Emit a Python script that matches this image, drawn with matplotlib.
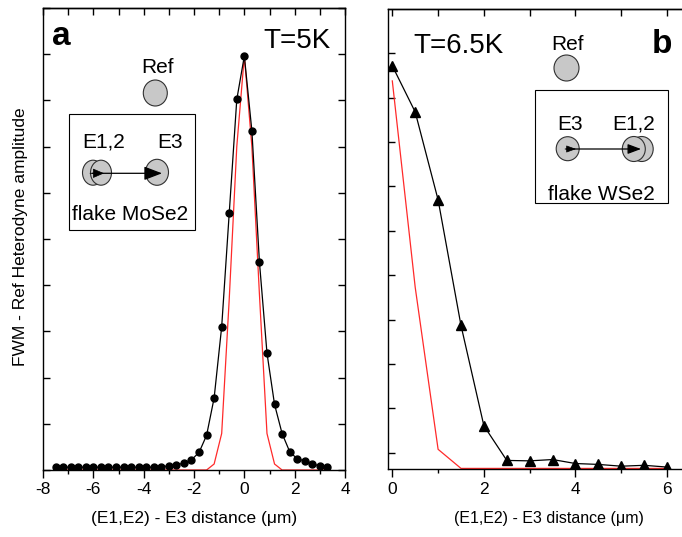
import numpy as np
import matplotlib
matplotlib.use('Agg')
import matplotlib.pyplot as plt
from matplotlib.patches import Ellipse, Rectangle, FancyArrowPatch
from matplotlib.ticker import MultipleLocator, FixedLocator

plt.rcParams['font.family'] = ['Liberation Sans', 'DejaVu Sans']
plt.rcParams['axes.unicode_minus'] = False

# ---------------- data ----------------
# panel a (MoSe2, T=5K)
a_x = [-7.5, -7.2, -6.9, -6.6, -6.3, -6.0, -5.7, -5.4, -5.1, -4.8, -4.5, -4.2,
       -3.9, -3.6, -3.3, -3.0, -2.7, -2.4, -2.1, -1.8, -1.5, -1.2, -0.9, -0.6,
       -0.3, 0.0, 0.3, 0.6, 0.9, 1.2, 1.5, 1.8, 2.1, 2.4, 2.7, 3.0, 3.3]
a_fwm = [0.06, 0.06, 0.06, 0.06, 0.06, 0.06, 0.06, 0.06, 0.06, 0.06, 0.06, 0.06,
         0.06, 0.06, 0.07, 0.09, 0.11, 0.15, 0.22, 0.38, 0.75, 1.56, 3.10, 5.56,
         8.02, 8.96, 7.34, 4.50, 2.53, 1.42, 0.79, 0.40, 0.24, 0.20, 0.14, 0.08, 0.06]
a_ref = [0.0, 0.0, 0.0, 0.0, 0.0, 0.0, 0.0, 0.0, 0.0, 0.0, 0.0, 0.0,
         0.0, 0.0, 0.0, 0.0, 0.0, 0.0, 0.0, 0.0, 0.0, 0.13, 0.79, 3.70,
         7.00, 8.96, 7.00, 3.80, 0.79, 0.13, 0.0, 0.0, 0.0, 0.0, 0.0, 0.0, 0.0]
a_xticks = [-8, -6, -4, -2, 0, 2, 4]

# panel b (WSe2, T=6.5K)
b_x = [0.0, 0.5, 1.0, 1.5, 2.0, 2.5, 3.0, 3.5, 4.0, 4.5, 5.0, 5.5, 6.0]
b_fwm = [9.09, 8.05, 6.07, 3.24, 0.98, 0.20, 0.19, 0.22, 0.13, 0.11, 0.07, 0.09, 0.05]
b_ref = [8.75, 4.10, 0.45, 0.02, 0.02, 0.02, 0.02, 0.02, 0.02, 0.02, 0.02, 0.02, 0.02]
b_xticks = [0, 2, 4, 6]

# ---------------- layout helpers ----------------
W, H = 682, 537
fig = plt.figure(figsize=(W / 100, H / 100), dpi=100)

def fx(x):
    return x / W

def fy(y):
    return 1 - y / H

def axes_px(left, top, right, bottom):
    return fig.add_axes([fx(left), fy(bottom), (right - left) / W, (bottom - top) / H])

axA = axes_px(43, 8, 345, 470)
axB = axes_px(388, 9, 685.4, 469.3)

RED = '#ff2a2a'

def style(ax, xmaj, xlim, ylim, yticks, right=True):
    ax.set_xlim(*xlim)
    ax.set_ylim(*ylim)
    ax.xaxis.set_major_locator(FixedLocator(xmaj))
    ax.xaxis.set_minor_locator(MultipleLocator(1))
    ax.yaxis.set_major_locator(FixedLocator(yticks))
    ax.set_yticklabels([])
    ax.tick_params(axis='x', which='major', direction='out', length=6, width=1,
                   labelsize=12.5, pad=3)
    ax.tick_params(axis='x', which='minor', direction='out', length=3, width=1)
    ax.tick_params(axis='y', which='major', direction='in', length=5, width=1,
                   left=True, right=right)
    for s in ax.spines.values():
        s.set_linewidth(1.0)
    top = ax.secondary_xaxis('top')
    top.xaxis.set_major_locator(MultipleLocator(1))
    top.tick_params(axis='x', which='major', direction='in', length=5, width=1,
                    labeltop=False)
    top.spines['top'].set_linewidth(1.0)

# panel a
axA.plot(a_x, a_ref, color=RED, lw=0.9, zorder=2)
axA.plot(a_x, a_fwm, color='black', lw=0.9, marker='o', ms=5, zorder=3)
style(axA, a_xticks, (-8, 4), (0, 10), list(range(0, 11)))

# panel b
axB.plot(b_x, b_ref, color=RED, lw=0.9, zorder=2)
axB.plot(b_x, b_fwm, color='black', lw=0.9, marker='^', ms=7, zorder=3)
style(axB, b_xticks, (-0.094, 6.4), (0, 10.37),
      [0.373 + k for k in range(11)], right=False)
axB.spines['right'].set_visible(False)

# axis labels
fig.text(fx(194.5), fy(519), '(E1,E2) - E3 distance (\u03bcm)', ha='center',
         va='center', fontsize=12.5)
fig.text(fx(548.5), fy(519), '(E1,E2) - E3 distance (\u03bcm)', ha='center',
         va='center', fontsize=11.5)
fig.text(fx(21), fy(237), 'FWM - Ref Heterodyne amplitude', rotation=90,
         ha='center', va='center', fontsize=12.5)

# panel letters and temperatures
fig.text(fx(52), fy(45), 'a', fontsize=24, fontweight='bold', va='baseline')
fig.text(fx(652), fy(53), 'b', fontsize=24, fontweight='bold', va='baseline')
fig.text(fx(263), fy(48), 'T=5K', fontsize=20, va='baseline')
fig.text(fx(413), fy(53), 'T=6.5K', fontsize=20, va='baseline')

GRAY = '#c8c8c8'
EDGE = '#303030'

def circle(cx, cy, w, h, z=5):
    e = Ellipse((fx(cx), fy(cy)), w / W, h / H, transform=fig.transFigure,
                facecolor=GRAY, edgecolor=EDGE, lw=0.8, zorder=z)
    fig.add_artist(e)

def box(l, t, r, b):
    rct = Rectangle((fx(l), fy(b)), (r - l) / W, (b - t) / H,
                    transform=fig.transFigure, facecolor='none',
                    edgecolor='black', lw=0.8, zorder=4)
    fig.add_artist(rct)

def arrow(x0, x1, y, hl, hw, lw=0.9, z=7):
    ar = FancyArrowPatch((fx(x0), fy(y)), (fx(x1), fy(y)),
                         transform=fig.transFigure,
                         arrowstyle=f'-|>,head_length={hl},head_width={hw}',
                         mutation_scale=10, color='black', lw=lw,
                         shrinkA=0, shrinkB=0, zorder=z)
    fig.add_artist(ar)

# inset a
fig.text(fx(157.5), fy(73), 'Ref', fontsize=15, ha='center', va='baseline')
circle(155.3, 93, 24, 26)
box(69, 114, 195, 230)
fig.text(fx(82), fy(147), 'E1,2', fontsize=15, va='baseline')
fig.text(fx(157), fy(148), 'E3', fontsize=15, va='baseline')
circle(93, 172.7, 21, 25, z=5)
circle(101, 172.7, 21, 25, z=5.5)
circle(157, 172.3, 23, 26)
arrow(92, 162, 173.3, 1.1, 0.42)
arrow(90, 104, 173.3, 0.7, 0.3, lw=0.5, z=7.5)
fig.text(fx(72), fy(220), 'flake MoSe2', fontsize=15, va='baseline')

# inset b
fig.text(fx(567.5), fy(50), 'Ref', fontsize=15, ha='center', va='baseline')
circle(566.5, 68, 25, 26)
box(535, 90, 667.7, 203)
fig.text(fx(557.7), fy(130), 'E3', fontsize=15, va='baseline')
fig.text(fx(612.7), fy(130), 'E1,2', fontsize=15, va='baseline')
circle(567.7, 148.7, 23, 24)
circle(641.7, 149, 23, 25, z=5)
circle(633.8, 149, 23, 25, z=5.5)
arrow(566, 641, 149, 0.8, 0.3)
arrow(565, 576, 149, 0.6, 0.22, lw=0.5, z=7.5)
fig.text(fx(548), fy(200), 'flake WSe2', fontsize=15, va='baseline')

fig.savefig('out.png', dpi=100)
